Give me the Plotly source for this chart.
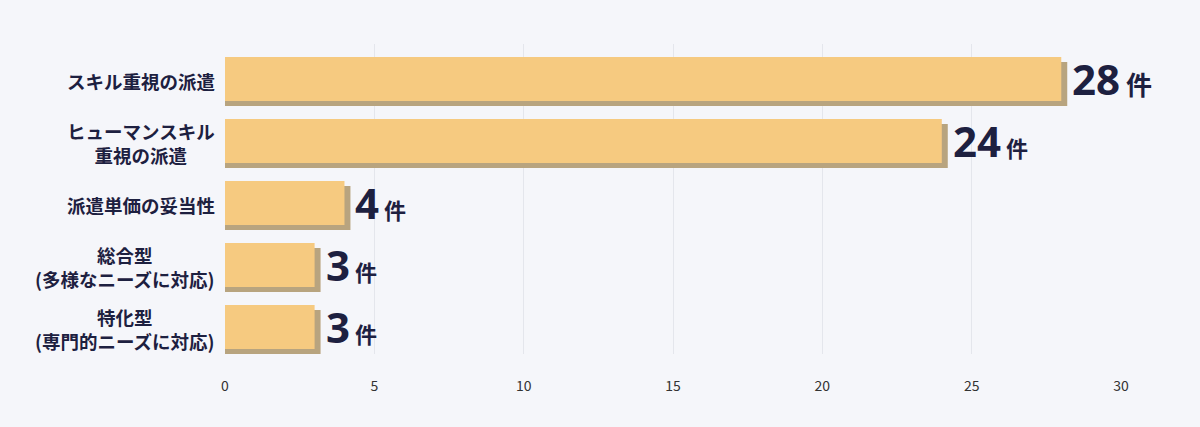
import plotly.graph_objects as go

# categories top to bottom
categories = [
    "スキル重視の派遣",
    "ヒューマンスキル<br>重視の派遣",
    "派遣単価の妥当性",
    "総合型<br>(多様なニーズに対応)",
    "特化型<br>(専門的ニーズに対応)",
]
counts = [28, 24, 4, 3, 3]
unit_label = "件"
x_ticks = [0, 5, 10, 15, 20, 25, 30]

FONT = "Noto Sans CJK JP"
NUM_FONT = "Noto Sans, Noto Sans CJK JP"
INK = "#1d2040"
BAR = "#F6CA80"
SHADOW = "#B8A47F"
BG = "#F5F6FA"

pos = list(range(len(categories)))

fig = go.Figure()

# shadow bars (offset right and down a little) for the 3d look
fig.add_trace(go.Bar(
    y=pos, x=[c + 0.2 for c in counts], base=0, orientation="h",
    offset=-0.21, width=0.71,
    marker=dict(color=SHADOW, line=dict(width=0)),
    hoverinfo="skip", showlegend=False,
))
# main bars
fig.add_trace(go.Bar(
    y=pos, x=counts, orientation="h",
    offset=-0.29, width=0.71,
    marker=dict(color=BAR, line=dict(width=0)),
    showlegend=False,
))

# value labels: big number + small unit
for i, c in enumerate(counts):
    usize = 26 if i == 0 else 22
    fig.add_annotation(
        x=c, y=i + 0.06, xref="x", yref="y",
        text="<b>%d<span style='font-size:%dpx;font-family:Noto Sans CJK JP'> %s</span></b>"
             % (c, usize, unit_label),
        showarrow=False, xanchor="left", yanchor="middle", xshift=9,
        font=dict(family=NUM_FONT, size=42, color=INK),
    )

# category labels: block right-aligned, lines centred inside the block
for i, name in enumerate(categories):
    fig.add_annotation(
        x=0, y=i + 0.1, xref="paper", yref="y",
        text="<b>%s</b>" % name, showarrow=False,
        xanchor="right", yanchor="middle", align="center", xshift=-8,
        font=dict(family=FONT, size=18.5, color=INK),
    )

fig.update_layout(
    width=1200, height=427,
    margin=dict(l=225, r=79, t=44, b=73),
    paper_bgcolor=BG, plot_bgcolor=BG,
    barmode="overlay",
    font=dict(family=FONT, color=INK),
    xaxis=dict(
        range=[0, 30], tickvals=x_ticks, showgrid=True, gridcolor="#E4E6EC",
        gridwidth=1, zeroline=False, showline=False,
        tickfont=dict(family=FONT, size=14, color="#333"),
        ticklabelstandoff=22,
    ),
    yaxis=dict(
        range=[4.5, -0.5], showticklabels=False, showgrid=False,
        zeroline=False, showline=False,
    ),
)

fig.write_html("out.html", config={"displayModeBar": False},
               post_script="document.body.style.margin='0';")
